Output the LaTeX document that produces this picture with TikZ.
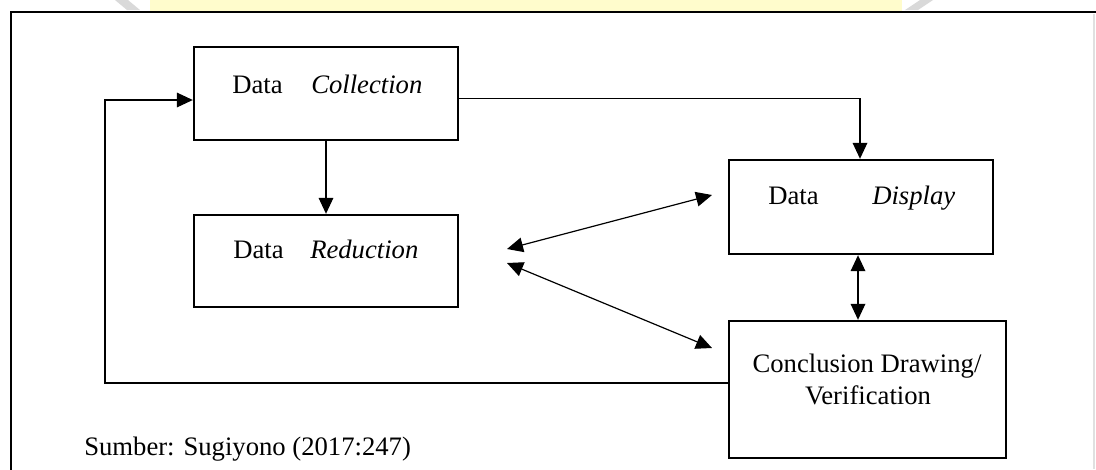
\documentclass[tikz,border=0pt]{standalone}
\usepackage{fontspec}
\setmainfont{Liberation Serif}
\usetikzlibrary{arrows.meta}
\begin{document}
\begin{tikzpicture}[x=0.75pt,y=-0.75pt,
  box/.style={draw,line width=1.8pt,inner sep=0pt},
  lbl/.style={anchor=base west,inner sep=0pt,font=\fontsize{20}{24}\selectfont},
  clbl/.style={anchor=base,inner sep=0pt,font=\fontsize{20}{24}\selectfont},
  conn/.style={line width=0.9pt,-{Triangle[length=12pt,width=11pt]}},
  dconn/.style={line width=0.9pt,{Triangle[length=12pt,width=11pt]}-{Triangle[length=12pt,width=11pt]}}]
\useasboundingbox (0,0) rectangle (1096,469);
% watermark remnant (faint band above the frame)
\fill[yellow!20] (150,0) rectangle (902,11);
\fill[black!15] (115,0) -- (128,0) -- (140,10) -- (127,10) -- cycle;
\fill[black!15] (905,10) -- (918,10) -- (933,0) -- (920,0) -- cycle;
% frame
\draw[line width=1.5pt] (11,480) -- (11,12) -- (1100,12);
\draw[black!12,line width=0.8pt] (1094,14) -- (1094,469);
% boxes
\node[box,minimum width=198pt,minimum height=69.75pt] (col) at (326,93.5) {};
\node[box,minimum width=198pt,minimum height=69pt] (red) at (326,261) {};
\node[box,minimum width=198pt,minimum height=70.5pt] (disp) at (861,207) {};
\node[box,minimum width=207.75pt,minimum height=102.75pt] (concl) at (867.5,389.5) {};
% texts
\node[lbl] (t1a) at (232,93) {Data};
\node[lbl] (t1b) at (311,93) {\textit{Collection}};
\node[lbl] (t2a) at (233,258) {Data};
\node[lbl] (t2b) at (310,258) {\textit{Reduction}};
\node[lbl] (t3a) at (768,204) {Data};
\node[lbl] (t3b) at (872,204) {\textit{Display}};
\node[clbl] (t4a) at (867,372) {Conclusion Drawing/};
\node[clbl] (t4b) at (868,404) {Verification};
\node[lbl] (src) at (84,455) {Sumber: Sugiyono (2017:247)};
% coordinates
\coordinate (fbL) at (105,383);
\coordinate (fbT) at (105,100);
\coordinate (cd) at (860,98.5);
\coordinate (dc) at (858,290);
\coordinate (r1) at (507,249);
\coordinate (d1) at (712,195);
\coordinate (r2) at (507,263);
\coordinate (c2) at (712,348);
% connectors
\draw[conn] (concl.west |- fbL) -- (fbL) -- (fbT) -- (col.west |- fbT);
\draw[conn] (col.east |- cd) -- (cd) -- (disp.north -| cd);
\draw[conn] (col.south) -- (red.north);
\draw[dconn] (disp.south -| dc) -- (concl.north -| dc);
\draw[dconn] (r1) -- (d1);
\draw[dconn] (r2) -- (c2);
\end{tikzpicture}
\end{document}
